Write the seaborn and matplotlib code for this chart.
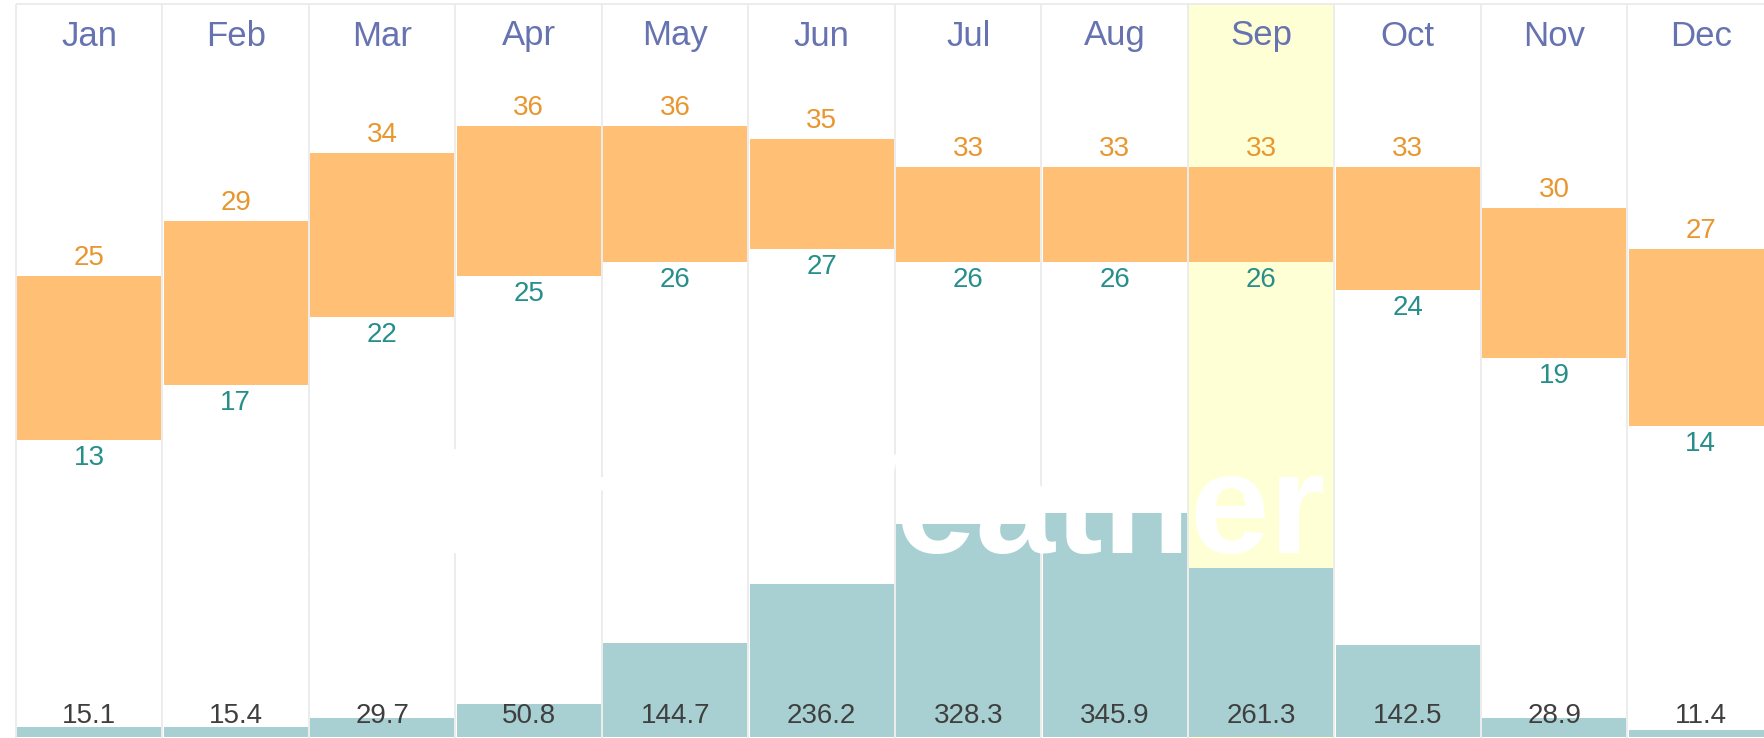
import numpy as np
import pandas as pd
import seaborn as sns
import matplotlib.pyplot as plt

# monthly climate values
months = ["Jan", "Feb", "Mar", "Apr", "May", "Jun", "Jul", "Aug", "Sep", "Oct", "Nov", "Dec"]
temp_high = [25, 29, 34, 36, 36, 35, 33, 33, 33, 33, 30, 27]
temp_low = [13, 17, 22, 25, 26, 27, 26, 26, 26, 24, 19, 14]
rain_mm = [15.1, 15.4, 29.7, 50.8, 144.7, 236.2, 328.3, 345.9, 261.3, 142.5, 28.9, 11.4]
highlight = "Sep"
watermark = "Kolkata Weather"

df = pd.DataFrame({"month": months, "high": temp_high, "low": temp_low, "rain": rain_mm})
df["span"] = df["high"] - df["low"]

sns.set_style("white")
plt.rcParams["font.family"] = ["Liberation Sans", "DejaVu Sans"]

W, H = 1765, 738
col_w = 146.5   # column width in px
left_pad = 16   # px before first column

fig = plt.figure(figsize=(W / 100, H / 100), dpi=100)
ax_t = fig.add_axes([0, 0, 1, 1])
ax_p = ax_t.twinx()

# background: highlighted month and column lines
hi = months.index(highlight)
top = 1 - 4 / H
ax_t.axvspan(hi - 0.5, hi + 0.5, ymin=0, ymax=top, color="#ffffd6", lw=0, zorder=0)
xt = ax_t.get_xaxis_transform()
edges = np.arange(len(months) + 1) - 0.5
ax_t.vlines(edges, 0, top, transform=xt, color="#ebebeb", lw=1.3, zorder=0.5)
ax_t.hlines(top, edges[0], edges[-1], transform=xt, color="#ebebeb", lw=1.3, zorder=0.5)

# temperature range bars
sns.barplot(data=df, x="month", y="span", bottom=df["low"].to_numpy(), color="#ffbf75",
            saturation=1, width=0.985, linewidth=0, errorbar=None, ax=ax_t, zorder=2)

# precipitation bars
sns.barplot(data=df, x="month", y="rain", color="#a8d0d2", saturation=1, width=0.985,
            linewidth=0, errorbar=None, ax=ax_p, zorder=2)

xlim = (-0.5 - left_pad / col_w, -0.5 + (W - left_pad) / col_w)
ax_t.set_xlim(*xlim)
ax_t.set_ylim(-8.8, 45.19)
ax_p.set_ylim(-1.5, 1137)
ax_t.axis("off")
ax_p.axis("off")

for i, row in df.iterrows():
    ax_t.annotate(f"{row['high']}", (i, row["high"]), xytext=(0, 13), textcoords="offset points",
                  ha="center", va="center", fontsize=20, color="#e8962e", zorder=3)
    ax_t.annotate(f"{row['low']}", (i, row["low"]), xytext=(0, -13), textcoords="offset points",
                  ha="center", va="center", fontsize=20, color="#268f8b", zorder=3)
    ax_t.text(i, 1 - 36 / H, row["month"], transform=xt, ha="center", va="center",
              fontsize=25, color="#6673b0", zorder=3)
    ax_p.text(i, 1 - 716 / H, f"{row['rain']:.1f}", transform=ax_p.get_xaxis_transform(),
              ha="center", va="center", fontsize=20, color="#3f3f3f", zorder=3)

# white watermark
fig.text(1325 / W, 1 - 553 / H, watermark, ha="right", va="baseline", fontsize=103,
         fontweight="bold", color="white", zorder=10)

fig.savefig("out.png", dpi=100)
